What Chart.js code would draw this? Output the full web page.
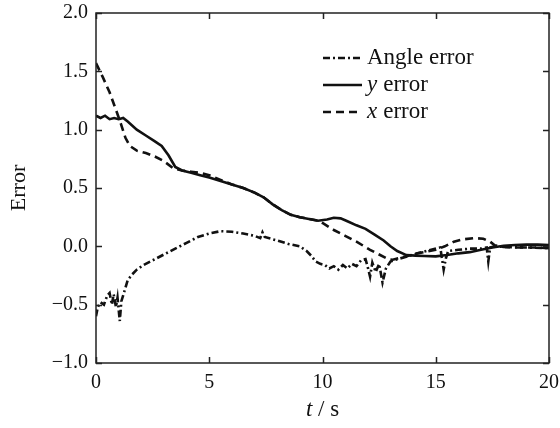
<!DOCTYPE html>
<html>
<head>
<meta charset="utf-8">
<script src="https://cdn.jsdelivr.net/npm/chart.js@4/dist/chart.umd.min.js"></script>
<style>
  html, body { margin: 0; padding: 0; background: #fff; }
  canvas { display: block; }
</style>
</head>
<body>
<canvas id="chart" width="560" height="428"></canvas>
<script>
// Axis ticks
const xTicks = [0, 5, 10, 15, 20];
const yTicks = [-1.0, -0.5, 0.0, 0.5, 1.0, 1.5, 2.0];

// Angle error
const angleTime = [0, 0.08, 0.2, 0.35, 0.5, 0.6, 0.7, 0.78, 0.88, 0.95, 1.05, 1.12, 1.2, 1.4, 1.6, 1.8, 2.1, 2.5, 3.0, 3.5,
  4.0, 4.5, 5.0, 5.5, 6.0, 6.5, 7.0, 7.25, 7.35, 7.45, 8.0, 8.5, 9.0, 9.3, 9.5, 9.7, 9.9, 10.1, 10.3, 10.5,
  10.7, 10.9, 11.1, 11.3, 11.5, 11.7, 11.9, 12.0, 12.1, 12.2, 12.35, 12.5, 12.65, 12.8, 13.0, 13.3, 13.7, 14.2, 14.8, 15.2,
  15.35, 15.45, 15.55, 16.0, 16.5, 17.0, 17.25, 17.32, 17.4, 17.6, 18.0, 19.0, 20.0];
const angleError = [-0.60, -0.52, -0.48, -0.50, -0.42, -0.40, -0.50, -0.41, -0.52, -0.44, -0.64, -0.47, -0.42, -0.29, -0.24, -0.20, -0.16, -0.12, -0.07, -0.02,
  0.03, 0.08, 0.11, 0.13, 0.125, 0.11, 0.09, 0.07, 0.12, 0.08, 0.05, 0.02, 0.0, -0.04, -0.08, -0.13, -0.15, -0.16, -0.19, -0.17,
  -0.20, -0.16, -0.19, -0.15, -0.17, -0.12, -0.11, -0.18, -0.26, -0.14, -0.22, -0.15, -0.31, -0.19, -0.13, -0.11, -0.09, -0.06, -0.03, -0.01,
  -0.20, -0.10, -0.04, -0.03, -0.02, -0.02, -0.01, -0.13, -0.01, 0.0, -0.005, -0.01, -0.015];

// y error
const yTime = [0, 0.2, 0.4, 0.6, 0.8, 1.0, 1.2, 1.4, 1.8, 2.2, 2.6, 2.9, 3.2, 3.5, 3.8, 4.2, 4.6, 5.0, 5.5, 6.0,
  6.5, 7.0, 7.4, 7.8, 8.2, 8.6, 9.0, 9.4, 9.8, 10.2, 10.5, 10.8, 11.1, 11.5, 11.9, 12.3, 12.7, 13.0, 13.3, 13.7,
  14.1, 14.5, 15.0, 15.5, 16.0, 16.5, 17.0, 17.5, 18.0, 18.5, 19.0, 19.5, 20.0];
const yError = [1.12, 1.10, 1.12, 1.09, 1.10, 1.09, 1.10, 1.07, 1.00, 0.95, 0.90, 0.86, 0.78, 0.68, 0.65, 0.63, 0.61, 0.59, 0.56, 0.53,
  0.50, 0.46, 0.42, 0.36, 0.31, 0.27, 0.25, 0.235, 0.22, 0.23, 0.245, 0.24, 0.215, 0.18, 0.15, 0.10, 0.05, 0.0, -0.04, -0.075,
  -0.08, -0.083, -0.086, -0.075, -0.06, -0.05, -0.03, -0.01, 0.005, 0.012, 0.015, 0.015, 0.01];

// x error
const xTime = [0, 0.3, 0.6, 0.9, 1.1, 1.3, 1.5, 1.8, 2.2, 2.6, 3.0, 3.4, 3.8, 4.2, 4.6, 5.0, 5.5, 6.0, 6.5, 7.0,
  7.4, 7.8, 8.2, 8.6, 9.0, 9.4, 9.8, 10.0, 10.5, 11.0, 11.5, 12.1, 12.5, 12.9, 13.1, 13.4, 13.8, 14.2, 14.6, 15.0,
  15.4, 15.8, 16.2, 16.7, 17.1, 17.4, 17.6, 18.0, 18.5, 19.0, 19.5, 20.0];
const xError = [1.57, 1.45, 1.32, 1.16, 1.05, 0.93, 0.86, 0.82, 0.80, 0.77, 0.73, 0.67, 0.65, 0.64, 0.63, 0.61, 0.57, 0.53, 0.50, 0.46,
  0.42, 0.36, 0.31, 0.27, 0.25, 0.235, 0.22, 0.20, 0.14, 0.09, 0.04, -0.03, -0.07, -0.11, -0.115, -0.10, -0.08, -0.06, -0.045, -0.03,
  0.0, 0.04, 0.06, 0.07, 0.065, 0.04, 0.01, -0.005, -0.01, -0.01, -0.01, -0.015];

const serif = '"Liberation Serif", "Times New Roman", serif';
const ink = '#111';

const points = (ts, vs) => ts.map((t, i) => ({ x: t, y: vs[i] }));

const series = [
  { label: 'Angle error', data: points(angleTime, angleError), dash: [7, 3, 2, 3] },
  { label: 'y error', data: points(yTime, yError), dash: [] },
  { label: 'x error', data: points(xTime, xError), dash: [8, 5] }
];

// Frame, inward ticks, legend and x title
const decorations = {
  id: 'decorations',
  afterDraw(chart) {
    const { ctx, chartArea: a, scales: { x, y } } = chart;
    ctx.save();
    ctx.strokeStyle = '#222';
    ctx.lineWidth = 1.5;
    ctx.strokeRect(a.left, a.top, a.right - a.left, a.bottom - a.top);

    const len = 6;
    ctx.beginPath();
    xTicks.forEach(v => {
      const px = Math.round(x.getPixelForValue(v)) + 0.5;
      ctx.moveTo(px, a.bottom); ctx.lineTo(px, a.bottom - len);
      ctx.moveTo(px, a.top); ctx.lineTo(px, a.top + len);
    });
    yTicks.forEach(v => {
      const py = Math.round(y.getPixelForValue(v)) + 0.5;
      ctx.moveTo(a.left, py); ctx.lineTo(a.left + len, py);
      ctx.moveTo(a.right, py); ctx.lineTo(a.right - len, py);
    });
    ctx.stroke();

    // legend
    const lx = 323, lw = 39, tx = 367;
    const rows = [58, 85, 112];
    const size = 23;
    ctx.fillStyle = ink;
    ctx.textBaseline = 'middle';
    chart.data.datasets.forEach((ds, i) => {
      const ry = rows[i];
      ctx.strokeStyle = ds.borderColor;
      ctx.lineWidth = ds.borderWidth;
      ctx.setLineDash(ds.borderDash);
      ctx.beginPath();
      ctx.moveTo(lx, ry); ctx.lineTo(lx + lw, ry);
      ctx.stroke();
      ctx.setLineDash([]);
      const m = ds.label.match(/^([a-z]) (.*)$/);
      let cx = tx;
      if (m) {
        ctx.font = `italic ${size}px ${serif}`;
        ctx.fillText(m[1], cx, ry);
        cx += ctx.measureText(m[1]).width + 6;
        ctx.font = `${size}px ${serif}`;
        ctx.fillText(m[2], cx, ry);
      } else {
        ctx.font = `${size}px ${serif}`;
        ctx.fillText(ds.label, cx, ry);
      }
    });

    // x axis title: "t / s"
    const parts = [['t', 'italic 23px '], [' / s', '23px ']];
    let total = 0;
    parts.forEach(p => { ctx.font = p[1] + serif; total += ctx.measureText(p[0]).width; });
    let px = (a.left + a.right) / 2 - total / 2;
    ctx.textBaseline = 'middle';
    parts.forEach(p => {
      ctx.font = p[1] + serif;
      ctx.fillText(p[0], px, 410);
      px += ctx.measureText(p[0]).width;
    });
    ctx.restore();
  }
};

new Chart(document.getElementById('chart'), {
  type: 'line',
  data: {
    datasets: series.map(s => ({
      label: s.label,
      data: s.data,
      borderColor: ink,
      borderWidth: 2.6,
      borderDash: s.dash,
      pointRadius: 0,
      tension: 0,
      fill: false
    }))
  },
  options: {
    responsive: false,
    animation: false,
    devicePixelRatio: 1,
    layout: { padding: { top: 13, right: 11, left: 0, bottom: 0 } },
    plugins: { legend: { display: false }, tooltip: { enabled: false } },
    scales: {
      x: {
        type: 'linear',
        min: 0, max: 20,
        afterFit: s => { s.height = 65; s.paddingLeft = 0; s.paddingRight = 0; },
        afterBuildTicks: s => { s.ticks = xTicks.map(v => ({ value: v })); },
        grid: { display: false, drawTicks: false },
        border: { display: false },
        ticks: {
          padding: 8,
          color: ink,
          font: { family: serif, size: 20 },
          maxRotation: 0,
          callback: v => String(v)
        }
      },
      y: {
        type: 'linear',
        min: -1, max: 2,
        afterFit: s => { s.width = 96; s.paddingTop = 0; s.paddingBottom = 0; },
        afterBuildTicks: s => { s.ticks = yTicks.map(v => ({ value: v })); },
        grid: { display: false, drawTicks: false },
        border: { display: false },
        title: {
          display: true,
          text: 'Error',
          color: ink,
          font: { family: serif, size: 22 },
          padding: { top: 6, bottom: 0 }
        },
        ticks: {
          padding: 8,
          color: ink,
          font: { family: serif, size: 20 },
          callback: v => (v < 0 ? '\u2212' : '') + Math.abs(v).toFixed(1)
        }
      }
    }
  },
  plugins: [decorations]
});
</script>
</body>
</html>
